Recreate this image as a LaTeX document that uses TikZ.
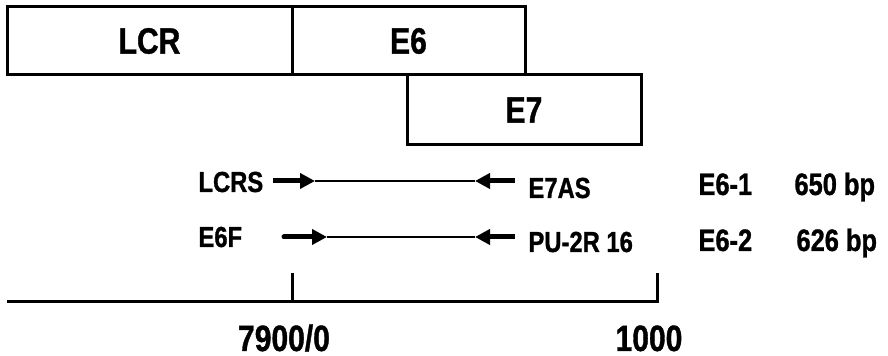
\documentclass[tikz,border=0pt]{standalone}
\usepackage{fontspec}
\newfontfamily\narrowfont[FakeStretch=0.82, BoldFeatures={FakeBold=1}]{Liberation Sans}
\usetikzlibrary{arrows.meta}

\newcommand{\bigsize}{\fontsize{18.3pt}{20pt}\selectfont}
\newcommand{\primersize}{\fontsize{14.5pt}{16pt}\selectfont}
\newcommand{\prodsize}{\fontsize{15.5pt}{17pt}\selectfont}

\begin{document}
\begin{tikzpicture}[x=0.5pt, y=-0.5pt, line width=1.5pt,
  segbox/.style={draw, inner sep=0pt, font=\narrowfont\bfseries\bigsize},
  primer/.style={line width=2.5pt, -{Triangle[length=7.5pt, width=7.5pt]}},
  amplicon/.style={line width=0.75pt},
  lbl/.style={anchor=base west, inner sep=0pt, font=\narrowfont\bfseries\primersize},
  prod/.style={anchor=base west, inner sep=0pt, font=\narrowfont\bfseries\prodsize},
  ticklbl/.style={anchor=base, inner sep=0pt, font=\narrowfont\bfseries\bigsize}]
  \useasboundingbox (0,0) rectangle (888,356);
  % genome segments
  \node[segbox, minimum width=142.5pt, minimum height=34pt] (lcr) at (149.5,41) {LCR};
  \node[segbox, minimum width=116.5pt, minimum height=34pt] (e6) at (408.5,41) {E6};
  \node[segbox, minimum width=117pt, minimum height=35pt] (e7) at (524,110) {E7};
  % primer pairs
  \coordinate (f1) at (273,181);  \coordinate (f1t) at (315,181);
  \coordinate (r1) at (515,181);  \coordinate (r1t) at (475,181);
  \coordinate (f2) at (284,237);  \coordinate (f2t) at (327,237);
  \coordinate (r2) at (515,237);  \coordinate (r2t) at (475,237);
  \draw[amplicon] (f1t) -- (r1t);
  \draw[amplicon, line width=1pt] (f2t) -- (r2t);
  \draw[primer] (f1) -- (f1t);
  \draw[primer] (r1) -- (r1t);
  \draw[primer, line cap=round] (f2) -- (f2t);
  \draw[primer] (r2) -- (r2t);
  \node[lbl] (lcrs) at (197,192) {LCRS};
  \node[lbl] (e7as) at (527,198) {E7AS};
  \node[lbl] (e6f) at (197,247) {E6F};
  \node[lbl] (pu2r) at (527,252) {PU-2R 16};
  \node[prod] (e61) at (697,195) {E6-1};
  \node[prod] (bp1) at (793,195) {650 bp};
  \node[prod] (e62) at (697,251) {E6-2};
  \node[prod] (bp2) at (795,251) {626 bp};
  % map axis
  \coordinate (a0) at (7,302);
  \coordinate (t0) at (292.5,302);
  \coordinate (t1) at (657,302);
  \draw (a0) -- (t1) -- ++(0,-29);
  \draw (t0) -- ++(0,-29);
  \node[ticklbl] (p0) at (284,351) {7900/0};
  \node[ticklbl] (p1) at (649,351) {1000};
\end{tikzpicture}
\end{document}
